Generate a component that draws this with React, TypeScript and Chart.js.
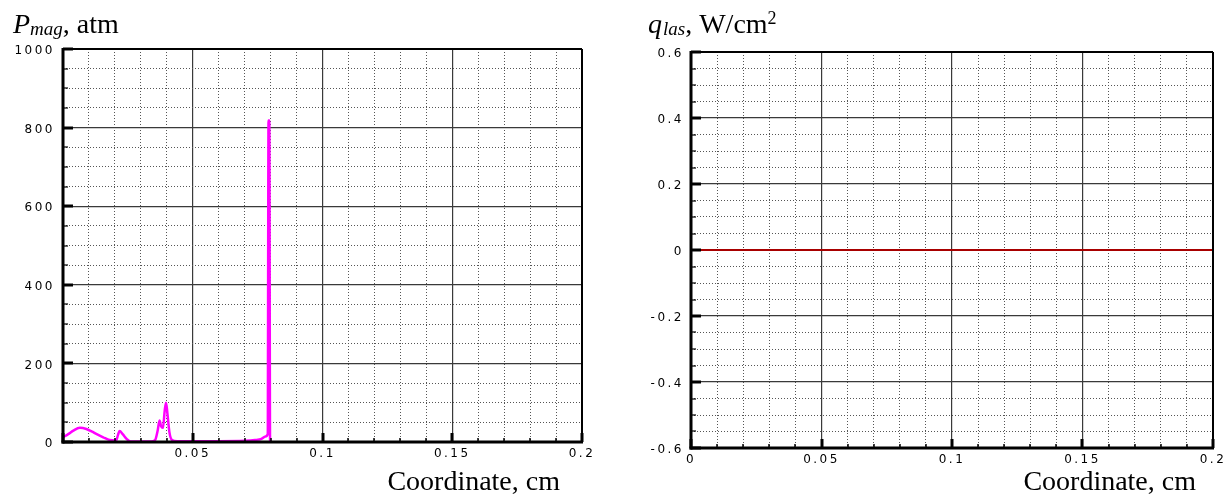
import React, { useEffect, useRef } from 'react';
import { Chart, registerables } from 'chart.js';

Chart.register(...registerables);

// ---- Data ----
const pmagX = [
  0, 0.002, 0.004, 0.0065, 0.009, 0.011, 0.013, 0.0155, 0.018, 0.0205,
  0.0212, 0.0218, 0.023, 0.0245, 0.026, 0.034, 0.0355, 0.0365, 0.0372, 0.0378,
  0.0385, 0.0392, 0.0397, 0.0402, 0.041, 0.042, 0.044, 0.05, 0.06, 0.07,
  0.074, 0.0765, 0.078, 0.0789, 0.0792, 0.0795, 0.0798, 0.08,
];
const pmagY = [
  12, 20, 29, 36, 33, 27, 20, 12, 5, 4,
  18, 28, 20, 8, 1, 1, 5, 30, 55, 40,
  36, 80, 100, 75, 25, 5, 2, 2, 2, 3,
  5, 8, 14, 20, 818, 818, 0, 0,
];
const qlasX = [0, 0.05, 0.1, 0.15, 0.2];
const qlasY = [0, 0, 0, 0, 0];

const xTickLabelsLeft = ['0.05', '0.1', '0.15', '0.2'];
const xTickLabelsRight = ['0', '0.05', '0.1', '0.15', '0.2'];
const yTickLabelsLeft = ['0', '200', '400', '600', '800', '1000'];
const yTickLabelsRight = ['-0.6', '-0.4', '-0.2', '0', '0.2', '0.4', '0.6'];

const TICK_FONT = { family: '"DejaVu Sans", sans-serif', size: 12 };
const SERIF = '"Liberation Serif", "Times New Roman", serif';

const fmt = (v: number) => String(Number(v.toFixed(4)));
const isMajorX = (v: number) => Math.abs(Math.round(v * 100)) % 5 === 0;
const isMajorYL = (v: number) => Math.abs(Math.round(v)) % 200 === 0;
const isMajorYR = (v: number) => Math.abs(Math.round(v * 100)) % 20 === 0;

function axis(
  min: number,
  max: number,
  step: number,
  labels: string[],
  isMajor: (v: number) => boolean,
  fit: (s: any) => void,
  pad: number,
  labelOffset: number
) {
  return {
    type: 'linear',
    min,
    max,
    afterFit: fit,
    border: {
      display: false,
      dash: (c: any) => (c.tick && !isMajor(c.tick.value) ? [1, 2] : []),
    },
    grid: {
      drawTicks: false,
      color: (c: any) => (c.tick && isMajor(c.tick.value) ? '#3a3a3a' : '#555'),
      lineWidth: (c: any) => (c.tick && isMajor(c.tick.value) ? 1.2 : 1),
    },
    ticks: {
      stepSize: step,
      maxTicksLimit: 200,
      autoSkip: false,
      maxRotation: 0,
      minRotation: 0,
      padding: pad,
      labelOffset,
      color: '#000',
      font: TICK_FONT,
      callback: (v: any) => {
        const s = fmt(Number(v));
        return labels.includes(s) ? s : '';
      },
    },
  };
}

function framePlugin(isMajorXf: (v: number) => boolean, isMajorYf: (v: number) => boolean) {
  return {
    id: 'frame',
    beforeDraw(chart: any) {
      chart.ctx.letterSpacing = '2.5px';
    },
    afterDatasetsDraw(chart: any) {
      const { ctx, chartArea: a, scales } = chart;
      ctx.save();
      ctx.letterSpacing = '0px';
      ctx.strokeStyle = '#000';
      ctx.lineCap = 'butt';
      const line = (x1: number, y1: number, x2: number, y2: number, w: number) => {
        ctx.lineWidth = w;
        ctx.beginPath();
        ctx.moveTo(x1, y1);
        ctx.lineTo(x2, y2);
        ctx.stroke();
      };
      scales.x.ticks.forEach((t: any) => {
        const px = Math.round(scales.x.getPixelForValue(t.value));
        const mj = isMajorXf(t.value);
        line(px, a.bottom, px, a.bottom - (mj ? 9 : 4), mj ? 3 : 1.5);
      });
      scales.y.ticks.forEach((t: any) => {
        const py = Math.round(scales.y.getPixelForValue(t.value));
        const mj = isMajorYf(t.value);
        line(a.left, py, a.left + (mj ? 10 : 5), py, mj ? 3 : 1.2);
      });
      line(a.left, a.top, a.right, a.top, 2);
      line(a.right, a.top, a.right, a.bottom, 2);
      line(a.left, a.top - 1, a.left, a.bottom + 1.5, 3);
      line(a.left - 1.5, a.bottom, a.right + 1, a.bottom, 3);
      ctx.restore();
    },
  };
}

function drawParts(ctx: any, parts: [string, string, number, number][], x0: number) {
  let x = x0;
  parts.forEach(([text, font, dy, gap]) => {
    ctx.font = font;
    ctx.fillText(text, x, dy);
    x += ctx.measureText(text).width + gap;
  });
}

export default function App() {
  const leftRef = useRef<HTMLCanvasElement>(null);
  const rightRef = useRef<HTMLCanvasElement>(null);

  useEffect(() => {
    const left = new Chart(leftRef.current as HTMLCanvasElement, {
      type: 'line',
      data: {
        datasets: [
          {
            data: pmagX.map((x, i) => ({ x, y: pmagY[i] })),
            borderColor: '#ff00ff',
            borderWidth: 2.5,
            pointRadius: 0,
            fill: false,
            cubicInterpolationMode: 'monotone',
          },
        ],
      },
      options: {
        responsive: false,
        animation: false,
        events: [],
        layout: { padding: { left: 0, right: 33, top: 49, bottom: 0 } },
        plugins: { legend: { display: false }, tooltip: { enabled: false }, title: { display: false } },
        scales: {
          x: axis(0, 0.2, 0.01, xTickLabelsLeft, isMajorX, (s: any) => { s.height = 53; }, 5, 0),
          y: axis(0, 1000, 50, yTickLabelsLeft, isMajorYL, (s: any) => { s.width = 63; }, 8, 2),
        },
      } as any,
      plugins: [
        framePlugin(isMajorX, isMajorYL),
        {
          id: 'titles',
          afterDraw(chart: any) {
            const ctx = chart.ctx;
            ctx.save();
            ctx.letterSpacing = '0px';
            ctx.fillStyle = '#000';
            ctx.textBaseline = 'alphabetic';
            ctx.textAlign = 'left';
            drawParts(ctx, [
              ['P', `italic 28px ${SERIF}`, 33, 0],
              ['mag', `italic 19px ${SERIF}`, 35, 0],
              [', atm', `28px ${SERIF}`, 33, 0],
            ], 13);
            ctx.font = `28px ${SERIF}`;
            ctx.textAlign = 'right';
            ctx.fillText('Coordinate, cm', 560, 490);
            ctx.restore();
          },
        },
      ],
    } as any);

    const right = new Chart(rightRef.current as HTMLCanvasElement, {
      type: 'line',
      data: {
        datasets: [
          {
            data: qlasX.map((x, i) => ({ x, y: qlasY[i] })),
            borderColor: '#a80000',
            borderWidth: 2,
            pointRadius: 0,
            fill: false,
          },
        ],
      },
      options: {
        responsive: false,
        animation: false,
        events: [],
        layout: { padding: { left: 0, right: 17, top: 52, bottom: 0 } },
        plugins: { legend: { display: false }, tooltip: { enabled: false }, title: { display: false } },
        scales: {
          x: axis(0, 0.2, 0.01, xTickLabelsRight, isMajorX, (s: any) => { s.height = 47; }, 5, 0),
          y: axis(-0.6, 0.6, 0.05, yTickLabelsRight, isMajorYR, (s: any) => { s.width = 76; }, 7, 2),
        },
      } as any,
      plugins: [
        framePlugin(isMajorX, isMajorYR),
        {
          id: 'titles',
          afterDraw(chart: any) {
            const ctx = chart.ctx;
            ctx.save();
            ctx.letterSpacing = '0px';
            ctx.fillStyle = '#000';
            ctx.textBaseline = 'alphabetic';
            ctx.textAlign = 'left';
            drawParts(ctx, [
              ['q', `italic 28px ${SERIF}`, 33, 1],
              ['las', `italic 19px ${SERIF}`, 35, 0],
              [', W/cm', `28px ${SERIF}`, 33, 0],
              ['2', `18px ${SERIF}`, 24, 0],
            ], 33);
            ctx.font = `28px ${SERIF}`;
            ctx.textAlign = 'right';
            ctx.fillText('Coordinate, cm', 581, 490);
            ctx.restore();
          },
        },
      ],
    } as any);

    return () => {
      left.destroy();
      right.destroy();
    };
  }, []);

  return (
    <div style={{ position: 'fixed', left: 0, top: 0, width: 1230, height: 495, background: '#fff' }}>
      <canvas ref={leftRef} width={615} height={495} style={{ position: 'absolute', left: 0, top: 0, width: 615, height: 495 }} />
      <canvas ref={rightRef} width={615} height={495} style={{ position: 'absolute', left: 615, top: 0, width: 615, height: 495 }} />
    </div>
  );
}
